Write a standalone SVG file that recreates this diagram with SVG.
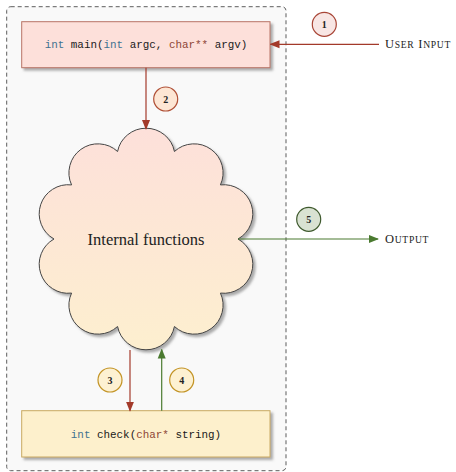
<svg xmlns="http://www.w3.org/2000/svg" width="456" height="472" viewBox="0 0 456 472">
<defs>
<filter id="sh" x="-10%" y="-10%" width="130%" height="130%">
<feDropShadow dx="2.5" dy="2.5" stdDeviation="0.9" flood-color="#777" flood-opacity="0.6"/>
</filter>
<linearGradient id="cg" x1="0" y1="0" x2="0" y2="1">
<stop offset="0" stop-color="#fde0da"/>
<stop offset="1" stop-color="#fdefcf"/>
</linearGradient>
<marker id="ar" viewBox="0 0 10 10" refX="9" refY="5" markerWidth="10" markerHeight="10" markerUnits="userSpaceOnUse" orient="auto">
<path d="M0,1 L10,5 L0,9 Z" fill="#a33a2a"/>
</marker>
<marker id="ag" viewBox="0 0 10 10" refX="9" refY="5" markerWidth="10" markerHeight="10" markerUnits="userSpaceOnUse" orient="auto">
<path d="M0,1 L10,5 L0,9 Z" fill="#4a7a30"/>
</marker>
</defs>
<style>
.code{font-family:"Liberation Mono","DejaVu Sans Mono",monospace;font-size:10.9px;fill:#1a1a1a}
.kw{fill:#3f7391}
.ty{fill:#8e4636}
.lbl{font-family:"Liberation Serif","DejaVu Serif",serif;font-size:12.5px;letter-spacing:0.7px;fill:#222}
.sc{font-size:9.6px}
.num{font-family:"Liberation Serif","DejaVu Serif",serif;font-size:10px;font-weight:bold;fill:#222;text-anchor:middle}
.red{stroke:#a33a2a;stroke-width:1.2;fill:none}
.grn{stroke:#4a7a30;stroke-width:1.2;fill:none}
</style>
<rect x="6.7" y="6.7" width="279.3" height="464" rx="4" fill="#f9f9f9" stroke="#333" stroke-width="0.8" stroke-dasharray="4,3"/>

<g id="main">
<rect x="21.7" y="21.7" width="248.3" height="46" fill="#fde0da" stroke="#b87566" stroke-width="1" filter="url(#sh)"/>
<text class="code" x="146" y="48" text-anchor="middle"><tspan class="kw">int</tspan> main(<tspan class="kw">int</tspan> argc, <tspan class="ty">char**</tspan> argv)</text>
</g>

<g id="cloud">
<path d="M117.57,151.5 A29,29 0 0 1 174.43,151.5 A29,29 0 0 1 220.43,184.92 A29,29 0 0 1 238,239 A29,29 0 0 1 220.43,293.08 A29,29 0 0 1 174.43,326.5 A29,29 0 0 1 117.57,326.5 A29,29 0 0 1 71.57,293.08 A29,29 0 0 1 54,239 A29,29 0 0 1 71.57,184.92 A29,29 0 0 1 117.57,151.5 Z" fill="url(#cg)" stroke="#444" stroke-width="1" filter="url(#sh)"/>
<text x="146" y="245" text-anchor="middle" font-family="Liberation Serif, DejaVu Serif, serif" font-size="16.5" fill="#222">Internal functions</text>
</g>

<g id="check">
<rect x="21.7" y="410.7" width="248.3" height="46.3" fill="#fdf0cc" stroke="#c9aa62" stroke-width="1" filter="url(#sh)"/>
<text class="code" x="146" y="437.5" text-anchor="middle"><tspan class="kw">int</tspan> check(<tspan class="ty">char*</tspan> string)</text>
</g>

<g id="user-input">
<text class="lbl" x="385" y="48">U<tspan class="sc">SER</tspan> I<tspan class="sc">NPUT</tspan></text>
</g>
<g id="output">
<text class="lbl" x="385" y="243">O<tspan class="sc">UTPUT</tspan></text>
</g>

<g id="connectors">
<line class="red" x1="379" y1="44.3" x2="270.5" y2="44.3" marker-end="url(#ar)"/>
<line class="red" x1="146" y1="67.7" x2="146" y2="129" marker-end="url(#ar)"/>
<line class="grn" x1="238" y1="239" x2="378" y2="239" marker-end="url(#ag)"/>
<line class="red" x1="130" y1="350" x2="130" y2="410.7" marker-end="url(#ar)"/>
<line class="grn" x1="161.7" y1="410.7" x2="161.7" y2="349.5" marker-end="url(#ag)"/>
</g>

<g id="badges">
<circle cx="324.3" cy="24.3" r="12" fill="#f8e6e4" stroke="#a84536" stroke-width="1.2"/>
<text class="num" x="324.3" y="27.8">1</text>
<circle cx="165.7" cy="99" r="12" fill="#fde6d4" stroke="#b05036" stroke-width="1.2"/>
<text class="num" x="165.7" y="102.5">2</text>
<circle cx="110" cy="380" r="12" fill="#fdf1d2" stroke="#c39426" stroke-width="1.2"/>
<text class="num" x="110" y="383.5">3</text>
<circle cx="181.7" cy="380" r="12" fill="#fdf1d2" stroke="#c39426" stroke-width="1.2"/>
<text class="num" x="181.7" y="383.5">4</text>
<circle cx="308.7" cy="219.3" r="12" fill="#d9e2d2" stroke="#3f5a2e" stroke-width="1.2"/>
<text class="num" x="308.7" y="222.8">5</text>
</g>
</svg>
